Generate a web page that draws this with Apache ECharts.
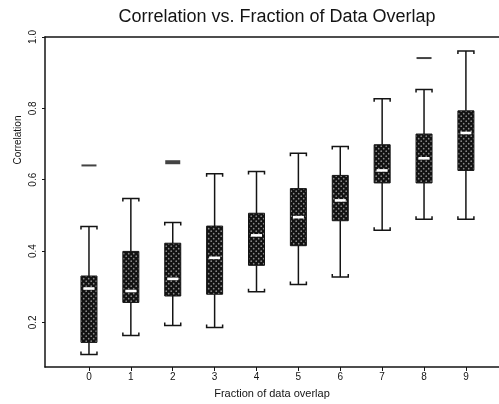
<!DOCTYPE html>
<html>
<head>
<meta charset="utf-8">
<script src="https://cdn.jsdelivr.net/npm/echarts@6/dist/echarts.min.js"></script>
<style>
  html, body { margin: 0; padding: 0; background: #fff; }
  #chart { width: 499px; height: 404px; }
</style>
</head>
<body>
<div id="chart"></div>
<script>
// values
const overlap = [0, 1, 2, 3, 4, 5, 6, 7, 8, 9];
const whiskerLow  = [0.110, 0.163, 0.191, 0.186, 0.286, 0.306, 0.327, 0.458, 0.489, 0.489];
const q1          = [0.144, 0.256, 0.274, 0.279, 0.360, 0.415, 0.485, 0.591, 0.591, 0.626];
const median      = [0.295, 0.288, 0.322, 0.381, 0.444, 0.495, 0.542, 0.626, 0.660, 0.731];
const q3          = [0.330, 0.399, 0.422, 0.470, 0.506, 0.575, 0.612, 0.698, 0.728, 0.793];
const whiskerHigh = [0.469, 0.547, 0.480, 0.617, 0.623, 0.674, 0.693, 0.827, 0.853, 0.961];
const outlierX = [0, 2, 8];
const outlierY = [0.640, 0.649, 0.941];
const yTicks = [0.2, 0.4, 0.6, 0.8, 1.0];

// stippled fill for the boxes
const pat = document.createElement('canvas');
pat.width = 5; pat.height = 5;
const pctx = pat.getContext('2d');
pctx.fillStyle = '#121212';
pctx.fillRect(0, 0, 5, 5);
pctx.fillStyle = '#8c8c8c';
pctx.beginPath(); pctx.arc(1.2, 1.2, 0.85, 0, Math.PI * 2); pctx.fill();
pctx.beginPath(); pctx.arc(3.7, 3.7, 0.85, 0, Math.PI * 2); pctx.fill();

const boxData = overlap.map((x, i) => [x, whiskerLow[i], q1[i], median[i], q3[i], whiskerHigh[i]]);
const outlierData = outlierX.map((x, i) => [x, outlierY[i]]);

const ink = '#141414';
const font = 'Liberation Sans, Arial, sans-serif';

function renderBox(params, api) {
    const x = api.value(0);
    const low = api.coord([x, api.value(1)]);
    const lo = api.coord([x, api.value(2)]);
    const med = api.coord([x, api.value(3)]);
    const hi = api.coord([x, api.value(4)]);
    const high = api.coord([x, api.value(5)]);
    const cx = low[0];
    const hw = 8;
    const line = { stroke: ink, lineWidth: 1.5, fill: null };
    return {
        type: 'group',
        children: [
            { type: 'line', shape: { x1: cx, y1: hi[1], x2: cx, y2: high[1] }, style: line },
            { type: 'line', shape: { x1: cx, y1: lo[1], x2: cx, y2: low[1] }, style: line },
            { type: 'polyline', shape: { points: [[cx - hw, high[1] + 3], [cx - hw, high[1]], [cx + hw, high[1]], [cx + hw, high[1] + 3]] }, style: line },
            { type: 'polyline', shape: { points: [[cx - hw, low[1] - 3], [cx - hw, low[1]], [cx + hw, low[1]], [cx + hw, low[1] - 3]] }, style: line },
            { type: 'rect', shape: { x: cx - hw, y: hi[1], width: hw * 2, height: lo[1] - hi[1] },
              style: { fill: { image: pat, repeat: 'repeat' }, stroke: ink, lineWidth: 1 } },
            { type: 'rect', shape: { x: cx - 5.5, y: med[1] - 1.3, width: 11, height: 2.6 }, style: { fill: '#fff' } }
        ]
    };
}

const chart = echarts.init(document.getElementById('chart'));
chart.setOption({
    backgroundColor: '#fff',
    animation: false,
    title: {
        text: 'Correlation vs. Fraction of Data Overlap',
        left: 272,
        textAlign: 'center',
        top: 3,
        textStyle: { fontFamily: font, fontSize: 18, fontWeight: 'normal', color: ink }
    },
    grid: { left: 45, right: 0, top: 37, bottom: 34 },
    xAxis: [{
        type: 'value',
        min: -1.05,
        max: 9.79,
        name: 'Fraction of data overlap',
        nameLocation: 'middle',
        nameGap: 21,
        nameTextStyle: { fontFamily: font, fontSize: 11, color: ink },
        axisLine: { onZero: false, lineStyle: { color: ink, width: 1.5 } },
        axisTick: { customValues: overlap, length: 4, lineStyle: { color: ink } },
        axisLabel: { customValues: overlap, fontFamily: font, fontSize: 10, color: ink, margin: 5 },
        splitLine: { show: false }
    }, {
        type: 'value',
        position: 'top',
        min: -1.05,
        max: 9.79,
        axisLine: { show: true, onZero: false, lineStyle: { color: ink, width: 1.5 } },
        axisTick: { show: false },
        axisLabel: { show: false },
        splitLine: { show: false }
    }],
    yAxis: {
        type: 'value',
        min: 0.075,
        max: 1.0,
        axisLine: { show: true, onZero: false, lineStyle: { color: ink, width: 1.5 } },
        axisTick: { show: true, customValues: yTicks, length: 3, lineStyle: { color: ink } },
        axisLabel: {
            customValues: yTicks, rotate: 90, margin: 7,
            fontFamily: font, fontSize: 10, color: ink,
            formatter: v => v.toFixed(1)
        },
        splitLine: { show: false }
    },
    graphic: [{
        type: 'text',
        x: 18, y: 140,
        rotation: Math.PI / 2,
        style: { text: 'Correlation', fontFamily: font, fontSize: 10, fill: ink, align: 'center', verticalAlign: 'middle' }
    }],
    series: [{
        type: 'custom',
        renderItem: renderBox,
        encode: { x: 0, y: [1, 2, 3, 4, 5] },
        data: boxData
    }, {
        type: 'scatter',
        symbol: 'rect',
        symbolSize: (v, p) => p.dataIndex === 1 ? [15, 4] : [15, 2],
        itemStyle: { color: ink },
        data: outlierData
    }]
});
</script>
</body>
</html>
